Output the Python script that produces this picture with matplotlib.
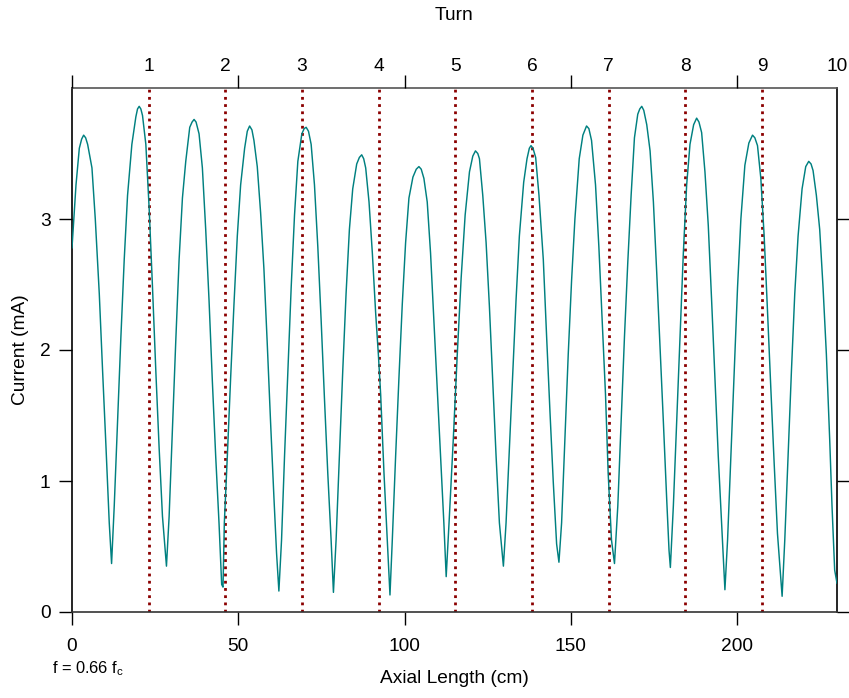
import matplotlib
matplotlib.use("Agg")
import matplotlib.pyplot as plt

plt.rcParams['font.family'] = ['Liberation Sans', 'DejaVu Sans']

# ---- data ----
x_cm = [0.0, 1.2, 2.2, 2.9, 3.5, 4.1, 4.7, 6.0, 7.0, 8.2, 9.2, 10.2, 11.2, 11.9,
        12.7, 13.7, 14.7, 15.7, 16.7, 18.0, 19.2, 19.7, 20.2, 20.7, 21.2, 22.2,
        23.2, 24.2, 25.2, 26.2, 27.2, 28.4, 29.2, 30.2, 31.2, 32.2, 33.2, 34.2,
        35.4, 36.1, 36.7, 37.3, 38.2, 39.2, 40.2, 41.2, 42.2, 43.2, 44.2, 45.0,
        45.4, 45.8, 46.7, 47.7, 48.7, 49.7, 50.7, 51.9, 52.7, 53.4, 54.1, 54.7,
        55.7, 56.7, 57.7, 58.7, 59.7, 60.7, 61.5, 62.2, 63.0, 63.9, 64.9, 65.9,
        66.9, 67.9, 69.1, 69.8, 70.4, 71.1, 71.9, 72.9, 73.9, 74.9, 75.9, 76.9,
        77.9, 78.6, 79.4, 80.4, 81.4, 82.4, 83.4, 84.4, 85.6, 86.4, 87.1, 87.7,
        88.3, 89.3, 90.3, 91.3, 92.1, 92.8, 93.8, 94.8, 95.6, 96.3, 97.3, 98.3,
        99.3, 100.3, 101.3, 102.5, 103.5, 104.3, 105.0, 105.8, 106.8, 107.8,
        108.8, 109.8, 110.8, 111.8, 112.5, 113.4, 114.6, 115.8, 117.0, 118.2,
        119.5, 120.5, 121.3, 122.0, 122.5, 123.5, 124.5, 125.5, 126.5, 127.5,
        128.5, 129.7, 130.5, 131.5, 132.5, 133.5, 134.5, 135.8, 136.8, 137.5,
        138.0, 138.6, 139.4, 140.4, 141.7, 142.7, 143.7, 144.7, 145.7, 146.4,
        147.2, 148.2, 149.2, 150.2, 151.2, 152.5, 153.6, 154.7, 155.4, 156.2,
        157.4, 158.4, 159.4, 160.4, 161.2, 162.2, 163.1, 164.1, 165.1, 166.1,
        167.1, 168.1, 169.1, 170.1, 170.7, 171.3, 171.9, 172.8, 173.8, 174.8,
        175.8, 176.8, 177.8, 178.8, 179.5, 179.9, 180.8, 181.8, 182.8, 183.8,
        184.8, 185.8, 186.9, 187.8, 188.5, 189.3, 190.3, 191.3, 192.3, 193.3,
        194.3, 195.3, 196.3, 197.1, 198.1, 199.1, 200.1, 201.1, 202.3, 203.5,
        204.6, 205.3, 206.1, 207.1, 208.1, 209.1, 210.1, 211.1, 212.1, 213.5,
        214.3, 215.3, 216.3, 217.3, 218.3, 219.5, 220.6, 221.5, 222.2, 222.8,
        223.8, 224.8, 225.8, 226.8, 227.8, 228.5, 229.3, 230.0]
current_mA = [2.78, 3.26, 3.54, 3.61, 3.64, 3.62, 3.57, 3.39, 3.00, 2.43, 1.84, 1.27, 0.68, 0.37,
              0.81, 1.45, 2.10, 2.69, 3.18, 3.57, 3.78, 3.84, 3.86, 3.84, 3.79, 3.57,
              3.08, 2.48, 1.84, 1.25, 0.73, 0.35, 0.73, 1.40, 2.07, 2.69, 3.16, 3.44,
              3.70, 3.74, 3.76, 3.74, 3.65, 3.39, 2.92, 2.38, 1.76, 1.19, 0.68, 0.21,
              0.19, 0.68, 1.19, 1.79, 2.35, 2.87, 3.26, 3.54, 3.67, 3.71, 3.68, 3.60,
              3.40, 3.05, 2.62, 2.05, 1.45, 0.88, 0.45, 0.16, 0.55, 1.19, 1.84, 2.48,
              3.03, 3.44, 3.65, 3.69, 3.70, 3.67, 3.57, 3.26, 2.79, 2.23, 1.63, 1.06,
              0.55, 0.15, 0.55, 1.19, 1.84, 2.43, 2.92, 3.23, 3.42, 3.47, 3.49, 3.46,
              3.39, 3.13, 2.74, 2.28, 1.97, 1.66, 1.06, 0.55, 0.13, 0.55, 1.19, 1.79,
              2.35, 2.82, 3.16, 3.32, 3.38, 3.40, 3.38, 3.31, 3.13, 2.74,
              2.23, 1.71, 1.19, 0.68, 0.27, 0.70, 1.30, 1.95, 2.55, 3.03,
              3.36, 3.48, 3.52, 3.50, 3.46, 3.18, 2.82, 2.33, 1.76, 1.19,
              0.68, 0.35, 0.68, 1.25, 1.81, 2.38, 2.87, 3.28, 3.46, 3.54,
              3.56, 3.54, 3.47, 3.18, 2.69, 2.10, 1.53, 0.99, 0.52, 0.38,
              0.68, 1.32, 1.97, 2.53, 3.00, 3.46, 3.64, 3.71, 3.69, 3.60,
              3.26, 2.79, 2.23, 1.66, 1.06, 0.55, 0.37, 0.81, 1.45, 2.10,
              2.67, 3.18, 3.62, 3.80, 3.84, 3.86, 3.83, 3.72, 3.52, 3.13,
              2.59, 2.02, 1.45, 0.86, 0.47, 0.34, 0.81, 1.45, 2.10, 2.74,
              3.26, 3.57, 3.72, 3.77, 3.74, 3.66, 3.36, 2.95, 2.38, 1.79,
              1.19, 0.68, 0.17, 0.55, 1.19, 1.84, 2.48, 3.00, 3.41, 3.58,
              3.64, 3.62, 3.56, 3.31, 2.87, 2.30, 1.71, 1.14, 0.60, 0.12,
              0.55, 1.19, 1.84, 2.43, 2.87, 3.23, 3.40, 3.44, 3.42, 3.37,
              3.18, 2.92, 2.48, 1.97, 1.32, 0.81, 0.32, 0.22]

turn_positions = [23.05, 46.1, 69.15, 92.2, 115.25, 138.3, 161.35, 184.4, 207.45, 230.0]
turn_labels = ['1', '2', '3', '4', '5', '6', '7', '8', '9', '10']
x_ticks = [0, 50, 100, 150, 200]
y_ticks = [0, 1, 2, 3]

FS = 13.8

# ---- figure ----
fig = plt.figure(figsize=(8.49, 6.98), dpi=100)
ax = fig.add_axes([72/849, 1-612/698, (837-72)/849, (612-88)/698])

ax.plot(x_cm, current_mA, color='#008080', lw=1.05, zorder=3,
        solid_joinstyle='round')
for tp in turn_positions[:-1]:
    ax.axvline(tp, color='#8B0000', ls=(0, (1, 1.6)), lw=2.0, zorder=2)

ax.set_xlim(0, 230)
ax.set_ylim(0, 4.0)
ax.set_xticks(x_ticks)
ax.set_yticks(y_ticks)
ax.tick_params(axis='both', direction='out', length=9.5, width=1.0,
               labelsize=FS, pad=6, colors='black')
ax.tick_params(axis='y', right=True)
ax.tick_params(axis='x', pad=9)
ax.set_xlabel('Axial Length (cm)', fontsize=FS, labelpad=11)
ax.set_ylabel('Current (mA)', fontsize=FS, labelpad=8)

for side, c in [('left', 'black'), ('right', 'black'), ('bottom', '#333333'), ('top', '#555555')]:
    ax.spines[side].set_color(c)
    ax.spines[side].set_linewidth(1.2)

ax2 = ax.twiny()
ax2.set_xlim(ax.get_xlim())
ax2.set_xticks(x_ticks)
ax2.set_xticklabels([])
ax2.set_xticks(turn_positions, labels=turn_labels, minor=True)
ax2.tick_params(axis='x', which='major', direction='out', length=9.5, width=1.0)
ax2.tick_params(axis='x', which='minor', length=0, labelsize=FS, pad=9.5)
ax2.set_xlabel('Turn', fontsize=FS, labelpad=27)
for s in ax2.spines.values():
    s.set_visible(False)

fig.text(52/849, 1-669/698, r'f = 0.66 f$_\mathregular{c}$', fontsize=11.8,
         ha='left', va='center')

fig.savefig('out.png', dpi=100)
